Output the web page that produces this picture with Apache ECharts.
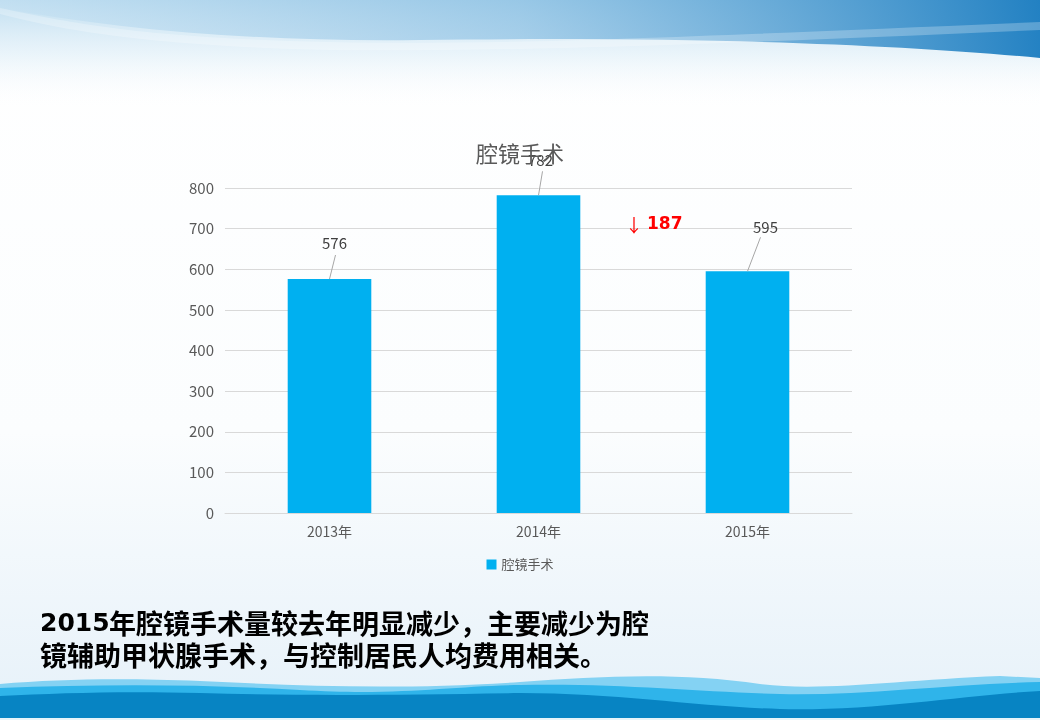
<!DOCTYPE html>
<html>
<head>
<meta charset="utf-8">
<script src="https://cdn.jsdelivr.net/npm/echarts@6/dist/echarts.min.js"></script>
<style>
  html, body { margin: 0; padding: 0; background: #fff; }
  #wrap { position: relative; width: 1040px; height: 720px; overflow: hidden; }
  #bg { position: absolute; left: 0; top: 0; }
  #chart { position: absolute; left: 0; top: 0; width: 1040px; height: 720px; }
</style>
</head>
<body>
<div id="wrap">
<svg id="bg" width="1040" height="720" xmlns="http://www.w3.org/2000/svg">
  <defs>
    <linearGradient id="page" x1="0" y1="0" x2="0" y2="1">
      <stop offset="0" stop-color="#ffffff"/>
      <stop offset="0.6" stop-color="#fbfdfe"/>
      <stop offset="1" stop-color="#e6f1f9"/>
    </linearGradient>
    <linearGradient id="topFade" x1="0" y1="0" x2="0" y2="1">
      <stop offset="0" stop-color="#b6d9ee" stop-opacity="0.9"/>
      <stop offset="0.5" stop-color="#d6eaf6" stop-opacity="0.5"/>
      <stop offset="1" stop-color="#ffffff" stop-opacity="0"/>
    </linearGradient>
    <linearGradient id="topBand" x1="0" y1="0" x2="1" y2="0">
      <stop offset="0" stop-color="#c4e0f2" stop-opacity="0.5"/>
      <stop offset="0.5" stop-color="#7fb9e0" stop-opacity="0.6"/>
      <stop offset="1" stop-color="#1a7cc0" stop-opacity="0.95"/>
    </linearGradient>
  </defs>
  <rect x="0" y="0" width="1040" height="720" fill="url(#page)"/>
  <rect x="0" y="0" width="1040" height="110" fill="url(#topFade)"/>
  <path d="M0 0 L1040 0 L1040 58 C 900 45, 700 36, 420 40 C 260 42, 120 30, 0 8 Z" fill="url(#topBand)"/>
  <path d="M0 8 C 80 25, 150 38, 330 42 C 500 46, 700 36, 1040 22 L1040 30 C 700 45, 500 52, 330 50 C 150 46, 60 30, 0 14 Z" fill="#ffffff" fill-opacity="0.25"/>
  <path d="M0 684 C 60 679, 120 678, 200 681 C 300 686, 400 690, 520 682 C 600 676, 680 672, 760 684 C 820 692, 900 680, 1000 676 L1040 678 L1040 720 L0 720 Z" fill="#84d2f3"/>
  <path d="M0 688 C 100 684, 200 684, 300 690 C 400 696, 450 686, 520 685 C 620 683, 700 692, 780 694 C 860 696, 950 684, 1040 682 L1040 720 L0 720 Z" fill="#2fb4ea"/>
  <path d="M0 696 C 60 693, 120 691, 200 693 C 300 696, 400 695, 520 693 C 620 693, 700 707, 780 709 C 880 711, 960 695, 1040 691 L1040 720 L0 720 Z" fill="#0784c3"/>
  <rect x="0" y="718" width="1040" height="2" fill="#e6f4fa"/>
</svg>
<div id="chart"></div>
</div>
<script>
var categories = ['2013年', '2014年', '2015年'];
var values = [576, 782, 595];
var seriesName = '腔镜手术';
var diffText = '187';
var noteNumber = '2015';
var noteLine1 = '年腔镜手术量较去年明显减少，主要减少为腔';
var noteLine2 = '镜辅助甲状腺手术，与控制居民人均费用相关。';

// 数据标签相对柱顶的偏移：[文字dx, 文字dy, 引导线终点dx, 引导线终点dy]
var labelShift = [[5, -36, 6, -24], [2, -35, 4, -24], [18, -44, 13, -34]];

var myChart = echarts.init(document.getElementById('chart'));
var font = '"Noto Sans CJK SC", "Noto Sans", sans-serif';

var labelData = values.map(function (v, i) { return [i, v]; });

var option = {
    backgroundColor: 'transparent',
    graphic: [
        // 差值标注
        {
            type: 'text', z: 5, left: 625, top: 216,
            style: {
                text: '{a|↓ }{b|' + diffText + '}',
                rich: {
                    a: { fill: '#ff0000', fontSize: 18, fontFamily: font },
                    b: { fill: '#ff0000', fontSize: 17, fontWeight: 'bold', fontFamily: 'Verdana, "DejaVu Sans", sans-serif' }
                }
            }
        },
        // 说明文字：数字
        {
            type: 'text', z: 5, left: 40, top: 612,
            style: {
                text: noteNumber,
                fill: '#000',
                fontSize: 25,
                fontWeight: 'bold',
                fontFamily: '"DejaVu Sans", Verdana, sans-serif'
            }
        },
        // 说明文字：中文
        {
            type: 'text', z: 5, left: 109, top: 608,
            style: {
                text: noteLine1,
                fill: '#000',
                fontSize: 27,
                fontWeight: 'bold',
                lineHeight: 32,
                fontFamily: font
            }
        },
        {
            type: 'text', z: 5, left: 40, top: 640,
            style: {
                text: noteLine2,
                fill: '#000',
                fontSize: 27,
                fontWeight: 'bold',
                lineHeight: 32,
                fontFamily: font
            }
        }
    ],
    title: {
        text: seriesName,
        left: 'center',
        top: 138,
        textStyle: { color: '#595959', fontSize: 22, fontWeight: 'normal', fontFamily: font }
    },
    legend: {
        bottom: 144,
        left: 'center',
        icon: 'rect',
        itemWidth: 10,
        itemHeight: 10,
        itemGap: 6,
        textStyle: { color: '#595959', fontSize: 13, fontFamily: font },
        data: [seriesName]
    },
    grid: { left: 225, right: 188, top: 188, bottom: 207 },
    xAxis: {
        type: 'category',
        data: categories,
        axisLine: { lineStyle: { color: '#d9d9d9' } },
        axisTick: { show: false },
        axisLabel: { color: '#595959', fontSize: 14, margin: 12, fontFamily: font }
    },
    yAxis: {
        type: 'value',
        min: 0,
        max: 800,
        interval: 100,
        axisLine: { show: false },
        axisTick: { show: false },
        splitLine: { lineStyle: { color: '#d9d9d9' } },
        axisLabel: { color: '#595959', fontSize: 15, margin: 11, fontFamily: font }
    },
    series: [
        {
            name: seriesName,
            type: 'bar',
            data: values,
            barWidth: '40%',
            itemStyle: { color: '#00b0f0' }
        },
        {
            name: 'labels',
            type: 'custom',
            z: 5,
            silent: true,
            data: labelData,
            encode: { x: 0, y: 1 },
            renderItem: function (params, api) {
                var i = api.value(0);
                var pt = api.coord([i, api.value(1)]);
                var s = labelShift[i];
                return {
                    type: 'group',
                    children: [
                        {
                            type: 'line',
                            shape: { x1: pt[0], y1: pt[1], x2: pt[0] + s[2], y2: pt[1] + s[3] },
                            style: { stroke: '#a6a6a6', lineWidth: 1 }
                        },
                        {
                            type: 'text',
                            x: pt[0] + s[0],
                            y: pt[1] + s[1],
                            style: {
                                text: String(api.value(1)),
                                fill: '#404040',
                                fontSize: 15,
                                fontFamily: font,
                                align: 'center',
                                verticalAlign: 'middle'
                            }
                        }
                    ]
                };
            }
        }
    ]
};

option && myChart.setOption(option);
</script>
</body>
</html>
